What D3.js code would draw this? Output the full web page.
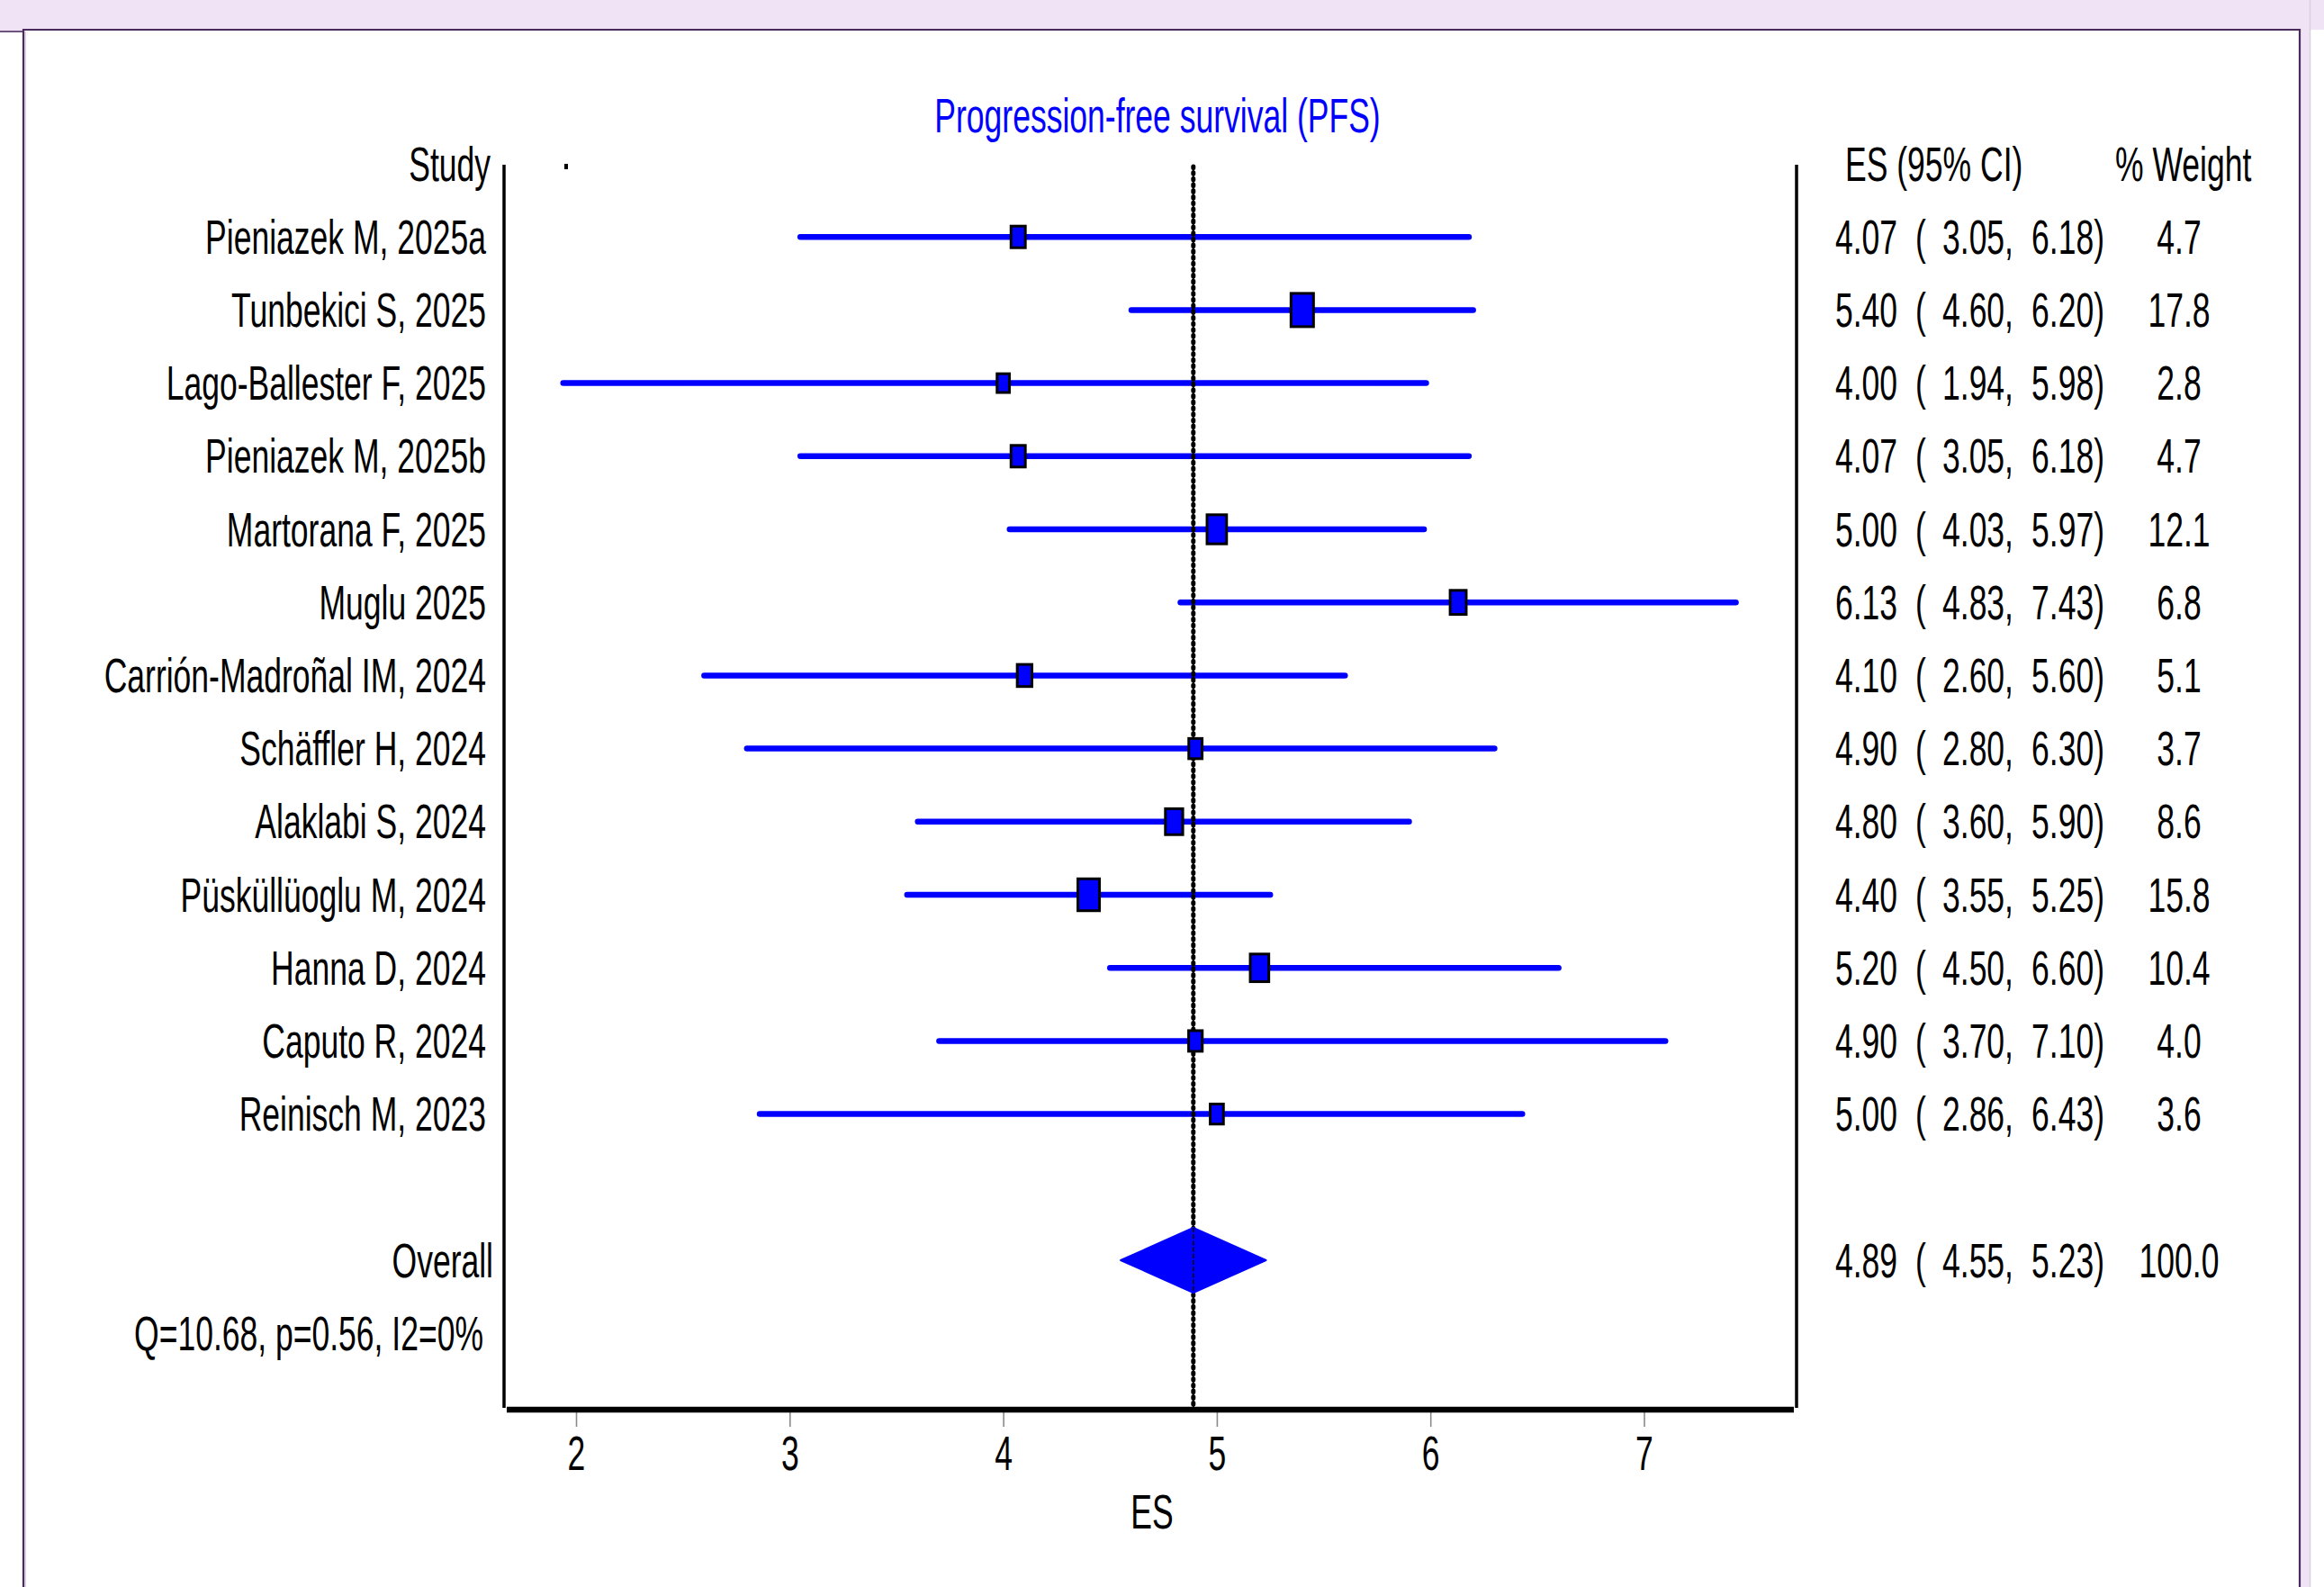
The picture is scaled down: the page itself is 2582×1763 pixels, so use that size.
<!DOCTYPE html>
<html>
<head>
<meta charset="utf-8">
<script src="https://cdn.jsdelivr.net/npm/d3@7"></script>
<style>
  html, body { margin: 0; padding: 0; background: #ffffff; }
  svg text { font-family: "Liberation Sans", Arial, sans-serif; font-size: 53px; fill: #000; }
</style>
</head>
<body>
<svg id="chart" width="2582" height="1763"></svg>
<script>
// ---------------- data ----------------
const title = "Progression-free survival (PFS)";
const studies = [
  "Pieniazek M, 2025a", "Tunbekici S, 2025", "Lago-Ballester F, 2025", "Pieniazek M, 2025b",
  "Martorana F, 2025", "Muglu 2025", "Carrión-Madroñal IM, 2024", "Schäffler H, 2024",
  "Alaklabi S, 2024", "Püsküllüoglu M, 2024", "Hanna D, 2024", "Caputo R, 2024", "Reinisch M, 2023"
];
const es      = [4.07, 5.40, 4.00, 4.07, 5.00, 6.13, 4.10, 4.90, 4.80, 4.40, 5.20, 4.90, 5.00];
const lower   = [3.05, 4.60, 1.94, 3.05, 4.03, 4.83, 2.60, 2.80, 3.60, 3.55, 4.50, 3.70, 2.86];
const upper   = [6.18, 6.20, 5.98, 6.18, 5.97, 7.43, 5.60, 6.30, 5.90, 5.25, 6.60, 7.10, 6.43];
const weights = [4.7, 17.8, 2.8, 4.7, 12.1, 6.8, 5.1, 3.7, 8.6, 15.8, 10.4, 4.0, 3.6];
const overallLabel = "Overall";
const overallES = 4.89, overallLower = 4.55, overallUpper = 5.23, overallWeight = 100.0;
const heterogeneity = "Q=10.68, p=0.56, I2=0%";
const xTicks = [2, 3, 4, 5, 6, 7];
const xAxisTitle = "ES";
const headerStudy = "Study", headerES = "ES (95% CI)", headerWeight = "% Weight";

// ---------------- layout ----------------
const W = 2582, H = 1763;
const SX = 0.67; // condensed glyphs in the reference
const svg = d3.select("#chart");
const fmt2 = d3.format(".2f"), fmt1 = d3.format(".1f");

const x = d3.scaleLinear().domain([2, 7]).range([640, 1826.5]);
const y = d3.scaleLinear().domain([0, 16]).range([182, 1481.2]); // row index -> center
const boxH = d3.scalePow().exponent(0.5).domain([4.7, 17.8]).range([27, 40]);

const BLUE = "#0000ff";
const LAV = "#f1e3f6", FRAME = "#4b2b5d";

// background frame
svg.append("rect").attr("x", 0).attr("y", 0).attr("width", W).attr("height", H).attr("fill", "#fff");
svg.append("rect").attr("x", 0).attr("y", 0).attr("width", W).attr("height", 33).attr("fill", LAV);
svg.append("rect").attr("x", 0).attr("y", 0).attr("width", 26).attr("height", 35).attr("fill", LAV);
svg.append("rect").attr("x", 2556).attr("y", 0).attr("width", 10).attr("height", H).attr("fill", LAV);
svg.append("line").attr("x1", 2566.5).attr("x2", 2566.5).attr("y1", 0).attr("y2", H).attr("stroke", "#d8d0dc").attr("stroke-width", 1.5);
svg.append("line").attr("x1", 0).attr("x2", 26).attr("y1", 35).attr("y2", 35).attr("stroke", FRAME).attr("stroke-width", 1.6);
svg.append("path").attr("d", `M26,${H} L26,33 L2555,33 L2555,${H}`).attr("fill", "none")
  .attr("stroke", FRAME).attr("stroke-width", 2.2);
svg.append("line").attr("x1", 28).attr("x2", 28).attr("y1", 35).attr("y2", H).attr("stroke", "#b9a6c4").attr("stroke-width", 1);

function txt(g, xp, yp, s, anchor, fill) {
  return g.append("text")
    .attr("transform", `translate(${xp},${yp}) scale(${SX},1)`)
    .attr("text-anchor", anchor)
    .style("fill", fill || "#000")
    .text(s);
}
const BL = 18.5; // baseline offset from row center

const g = svg.append("g");

// title
txt(g, 1286, 147, title, "middle", BLUE);

// frame lines of plot
const yTop = 183, yAxis = 1566;
g.append("line").attr("x1", 560).attr("x2", 560).attr("y1", yTop).attr("y2", yAxis - 2)
  .attr("stroke", "#000").attr("stroke-width", 3.5);
g.append("line").attr("x1", 1996).attr("x2", 1996).attr("y1", yTop).attr("y2", yAxis - 2)
  .attr("stroke", "#000").attr("stroke-width", 3.5);

// small dot by header
g.append("rect").attr("x", 627).attr("y", 182).attr("width", 4).attr("height", 6).attr("fill", "#000");

// headers
txt(g, 545, y(0) + BL, headerStudy, "end");
txt(g, 2050, y(0) + BL, headerES, "start");
txt(g, 2350, y(0) + BL, headerWeight, "start");

// CI lines
const rows = studies.map((s, i) => ({ s, es: es[i], lo: lower[i], hi: upper[i], w: weights[i], r: i + 1 }));
g.selectAll("line.ci").data(rows).enter().append("line").attr("class", "ci")
  .attr("x1", d => x(d.lo)).attr("x2", d => x(d.hi))
  .attr("y1", d => y(d.r)).attr("y2", d => y(d.r))
  .attr("stroke", BLUE).attr("stroke-width", 6.5).attr("stroke-linecap", "round");

// dashed overall line (beaded look)
g.append("line").attr("x1", x(overallES)).attr("x2", x(overallES)).attr("y1", yTop + 2).attr("y2", yAxis - 2)
  .attr("stroke", "#000").attr("stroke-width", 5).attr("stroke-linecap", "round")
  .attr("stroke-dasharray", "1.4 5.3");
g.append("line").attr("x1", x(overallES)).attr("x2", x(overallES)).attr("y1", yTop).attr("y2", yAxis)
  .attr("stroke", "#000").attr("stroke-width", 2);

// boxes
g.selectAll("rect.box").data(rows).enter().append("rect").attr("class", "box")
  .attr("x", d => x(d.es) - (0.7 * boxH(d.w) - 3) / 2)
  .attr("y", d => y(d.r) - (boxH(d.w) - 3) / 2)
  .attr("width", d => 0.7 * boxH(d.w) - 3)
  .attr("height", d => boxH(d.w) - 3)
  .attr("fill", BLUE).attr("stroke", "#000").attr("stroke-width", 3);

// overall diamond
const yo = y(15), dh = 36;
g.append("path")
  .attr("d", `M${x(overallLower)},${yo} L${x(overallES)},${yo - dh} L${x(overallUpper)},${yo} L${x(overallES)},${yo + dh} Z`)
  .attr("fill", BLUE).attr("stroke", BLUE).attr("stroke-width", 2).attr("stroke-linejoin", "round");
// dashed line over diamond
g.append("line").attr("x1", x(overallES)).attr("x2", x(overallES)).attr("y1", yo - dh).attr("y2", yo + dh)
  .attr("stroke", "#000").attr("stroke-width", 1.6).attr("stroke-dasharray", "5 2.2");

// left labels
rows.forEach(d => txt(g, 540, y(d.r) + BL, d.s, "end"));
txt(g, 548, yo + BL, overallLabel, "end");
txt(g, 537, y(16) + BL, heterogeneity, "end");

// right columns
function rightRow(r, e, lo, hi, w) {
  const yb = y(r) + BL;
  txt(g, 2039, yb, fmt2(e), "start");
  txt(g, 2128, yb, "(", "start");
  txt(g, 2237, yb, fmt2(lo) + ",", "end");
  txt(g, 2338, yb, fmt2(hi) + ")", "end");
  txt(g, 2421, yb, fmt1(w), "middle");
}
rows.forEach(d => rightRow(d.r, d.es, d.lo, d.hi, d.w));
rightRow(15, overallES, overallLower, overallUpper, overallWeight);

// x axis
const axisG = g.append("g").attr("transform", `translate(0,${yAxis + 2})`)
  .call(d3.axisBottom(x).tickValues(xTicks).tickSize(17).tickFormat(d3.format("d")));
axisG.select(".domain").remove();
axisG.selectAll(".tick line").attr("stroke", "#8a8a8a").attr("stroke-width", 1.6);
axisG.selectAll(".tick text")
  .attr("y", null).attr("dy", null)
  .attr("transform", `translate(0,65) scale(${SX},1)`)
  .attr("font-size", null).attr("font-family", null)
  .style("font-size", "53px").style("fill", "#000");
g.append("line").attr("x1", 563).attr("x2", 1993).attr("y1", yAxis).attr("y2", yAxis)
  .attr("stroke", "#000").attr("stroke-width", 6.5);
txt(g, 1280, 1698, xAxisTitle, "middle");
</script>
</body>
</html>
